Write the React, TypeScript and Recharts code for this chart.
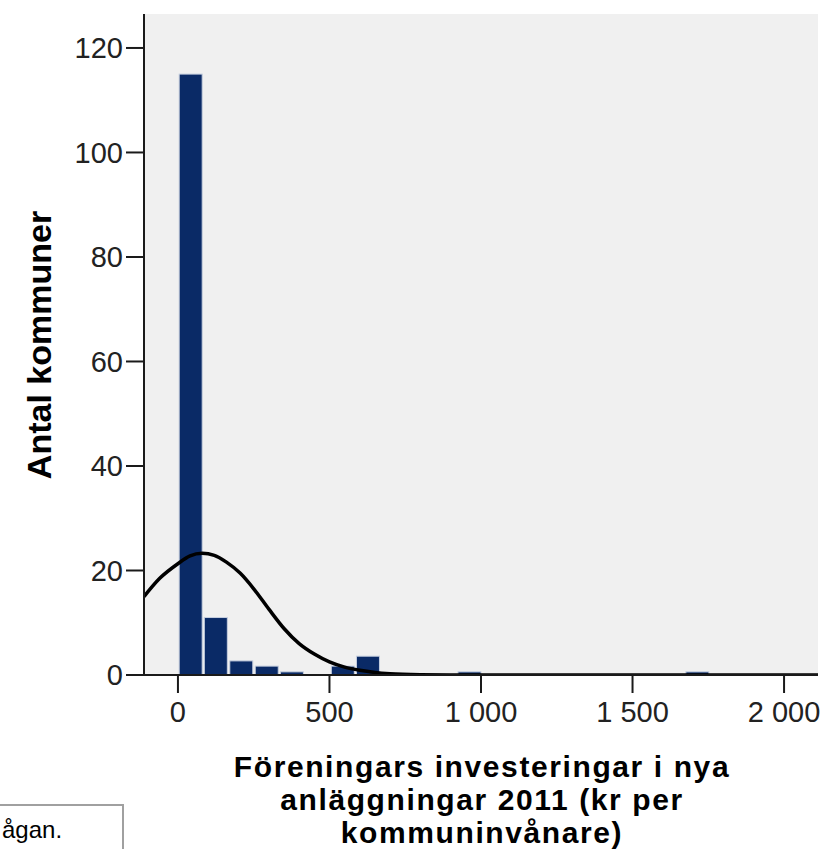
import { Bar, CartesianGrid, ComposedChart, Line, XAxis, YAxis } from "recharts";

// histogram bins (centre of each bin, kr per invånare) and counts
const binCenters = [42, 125, 209, 293, 376, 544, 627, 962, 1714];
const counts = [115, 11, 2.7, 1.7, 0.6, 1.7, 3.6, 0.6, 0.6];

// normal curve, points
const curveX = [-112, -60, 0, 40, 80, 120, 160, 205, 250, 300, 350, 400, 450, 500, 550, 600, 650, 700, 800, 900, 2112];
const curveY = [15.0, 18.5, 21.3, 22.8, 23.3, 22.9, 21.6, 19.5, 16.5, 12.6, 8.9, 6.0, 4.0, 2.5, 1.5, 0.9, 0.5, 0.25, 0.05, 0, 0];

const xTicks = [0, 500, 1000, 1500, 2000];
const yTicks = [0, 20, 40, 60, 80, 100, 120];

const yTitle = "Antal kommuner";
const xTitle = ["Föreningars investeringar i nya", "anläggningar 2011 (kr per", "kommuninvånare)"];
const noteText = "ågan.";

const bars = binCenters.map((x, i) => ({ x, count: counts[i] }));
const curve = curveX.map((x, i) => ({ x, y: curveY[i] }));

const FONT = "'Liberation Sans', Arial, sans-serif";
const AXIS = "#1a1a1a";
const BAR_W = 23;

function fmt(v: number) {
  if (v < 1000) return String(v);
  return `${Math.floor(v / 1000)} ${String(v % 1000).padStart(3, "0")}`;
}

// keep the x/height recharts gives, only force the pixel width of a bin
function BinShape(p: any) {
  if (!p.height || p.height <= 0) return null;
  const cx = p.x + p.width / 2;
  return (
    <rect
      x={cx - BAR_W / 2}
      y={p.y}
      width={BAR_W}
      height={p.height}
      fill="#0a2a66"
      stroke="#c6cfdf"
      strokeWidth={1}
    />
  );
}

export default function App() {
  return (
    <div style={{ position: "absolute", left: 0, top: 0, width: 829, height: 849, background: "#fff", overflow: "hidden" }}>
      <ComposedChart
        width={829}
        height={849}
        data={bars}
        margin={{ top: 14, right: 11, bottom: 0, left: 0 }}
        style={{ fontFamily: FONT }}
      >
        <CartesianGrid fill="#f0f0f0" stroke="none" />
        <XAxis
          dataKey="x"
          type="number"
          domain={[-112, 2112]}
          allowDataOverflow
          ticks={xTicks}
          tickFormatter={fmt}
          height={174}
          tickSize={18}
          tickMargin={8}
          axisLine={{ stroke: AXIS, strokeWidth: 2 }}
          tickLine={{ stroke: AXIS, strokeWidth: 2 }}
          tick={{ fill: "#222", fontSize: 29, fontFamily: FONT }}
        />
        <XAxis
          xAxisId="top"
          orientation="top"
          type="number"
          domain={[-112, 2112]}
          height={0}
          tick={false}
          tickLine={false}
          axisLine={{ stroke: "#8a8a8a", strokeWidth: 3 }}
        />
        <YAxis
          type="number"
          domain={[0, 126.5]}
          allowDataOverflow
          ticks={yTicks}
          width={144}
          tickSize={18}
          tickMargin={3}
          axisLine={{ stroke: AXIS, strokeWidth: 2 }}
          tickLine={{ stroke: AXIS, strokeWidth: 2 }}
          tick={{ fill: "#222", fontSize: 29, fontFamily: FONT }}
        />
        <YAxis
          yAxisId="right"
          orientation="right"
          domain={[0, 126.5]}
          width={0}
          tick={false}
          tickLine={false}
          axisLine={{ stroke: AXIS, strokeWidth: 2 }}
        />
        <Bar dataKey="count" shape={BinShape} isAnimationActive={false} />
        <Line
          data={curve}
          dataKey="y"
          type="monotone"
          stroke="#000"
          strokeWidth={3.5}
          dot={false}
          activeDot={false}
          isAnimationActive={false}
        />
      </ComposedChart>

      <svg width={829} height={849} style={{ position: "absolute", left: 0, top: 0, pointerEvents: "none" }}>
        <text
          x={0}
          y={0}
          transform="translate(51 345) rotate(-90)"
          textAnchor="middle"
          fontFamily={FONT}
          fontWeight="bold"
          fontSize={34}
          fill="#000"
        >
          {yTitle}
        </text>
        {xTitle.map((line, i) => (
          <text
            key={i}
            x={482}
            y={777 + i * 33}
            textAnchor="middle"
            fontFamily={FONT}
            fontWeight="bold"
            fontSize={30}
            letterSpacing={1.6}
            fill="#000"
          >
            {line}
          </text>
        ))}
      </svg>

      <div
        style={{
          position: "absolute",
          left: -40,
          top: 804,
          width: 164,
          height: 80,
          border: "2px solid #a0a0a0",
          background: "#fff",
          boxSizing: "border-box",
          fontFamily: FONT,
          fontSize: 24,
          color: "#000",
          overflow: "hidden",
        }}
      >
        <span style={{ position: "absolute", left: 40, top: 10 }}>{noteText}</span>
      </div>
    </div>
  );
}
